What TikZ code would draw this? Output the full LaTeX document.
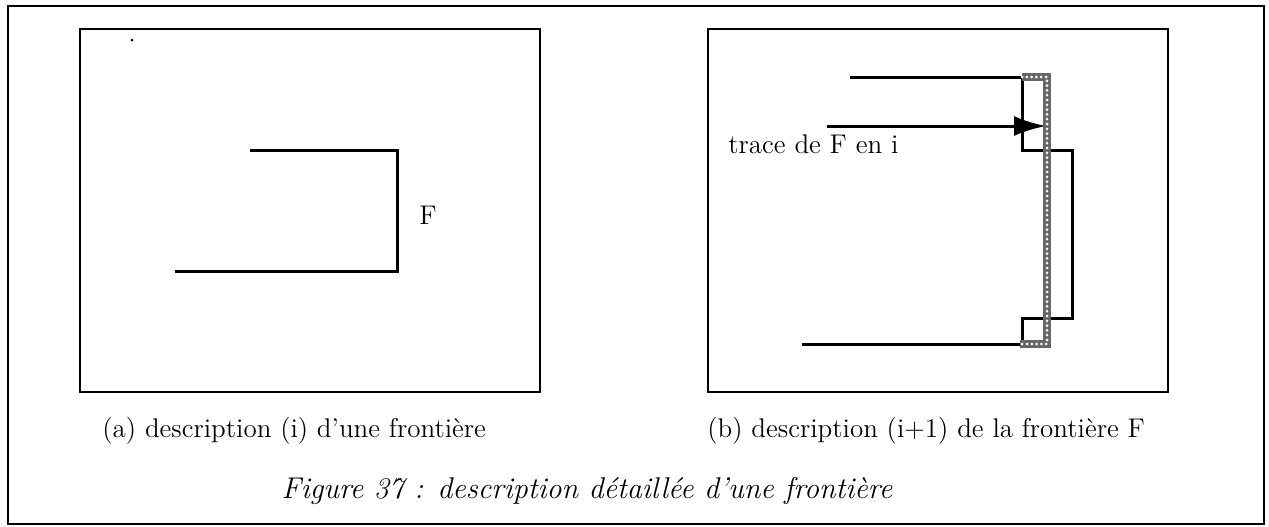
\documentclass[tikz,border=0pt]{standalone}
\usetikzlibrary{arrows.meta}
\tikzset{
  cadre/.style={line width=1pt},
  trait/.style={line width=1.5pt, line join=miter},
  tracefond/.style={line width=3.6pt, black!60},
  tracetrous/.style={line width=1.5pt, white, line cap=round, dash pattern=on 0pt off 2.4pt},
  texte/.style={font=\fontsize{13.5}{16}\selectfont, inner sep=0pt},
  titre/.style={font=\fontsize{15}{18}\selectfont\itshape, inner sep=0pt},
}
\begin{document}
\begin{tikzpicture}[x=0.5pt,y=-0.5pt]
\useasboundingbox (0,0) rectangle (1269,526);
% cadre general
\draw[line width=1.2pt] (8,6) rectangle (1264,524);
% (a) description (i)
\draw[cadre] (80,29) rectangle (540,392);
\draw[trait] (250,150) -- (397,150) -- (397,271) -- (175,271);
\node[texte] (lettreF) at (428,215) {F};
\fill (132,40) circle (1.5);
\node[texte, anchor=base west] (legA) at (102,437) {(a) description (i) d’une frontière};
% (b) description (i+1)
\draw[cadre] (708,29) rectangle (1168,392);
\draw[trait] (850,77) -- (1022,77) -- (1022,150) -- (1072,150) -- (1072,318)
  -- (1022,318) -- (1022,344) -- (802,344);
\node[texte, anchor=base west] (trace) at (728,153) {trace de F en i};
\coordinate (depart) at (827,126);
\coordinate (pointe) at (1046,126);
\draw[trait, -{Latex[length=16pt,width=10pt]}] (depart) -- (pointe);
% trace de F en i (bande grisee)
\draw[tracefond] (1022,77) -- (1047,77) -- (1047,344) -- (1020,344);
\draw[tracetrous] (1022,77) -- (1047,77) -- (1047,344) -- (1020,344);
\node[texte, anchor=base west] (legB) at (707,437) {(b) description (i+1) de la frontière F};
% legende de la figure
\node[titre, anchor=base] (figure) at (587,498) {Figure 37 : description détaillée d’une frontière};
\end{tikzpicture}
\end{document}
